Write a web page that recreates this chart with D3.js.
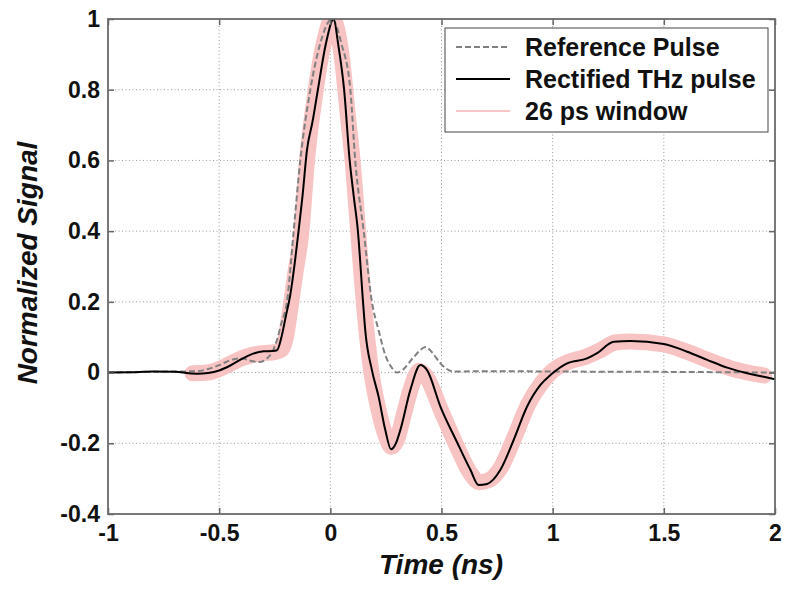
<!DOCTYPE html>
<html><head><meta charset="utf-8">
<script src="https://cdn.jsdelivr.net/npm/d3@7"></script>
<style>
body{margin:0;background:#fff;}
svg text{font-family:"Liberation Sans",Arial,sans-serif;font-weight:bold;fill:#111;}
</style></head>
<body><svg id="c" width="786" height="593"></svg>
<script>
// ---- data ----
const xTicks = [-1, -0.5, 0, 0.5, 1, 1.5, 2];
const yTicks = [-0.4, -0.2, 0, 0.2, 0.4, 0.6, 0.8, 1];
const xTickLabels = ["-1", "-0.5", "0", "0.5", "1", "1.5", "2"];
const yTickLabels = ["-0.4", "-0.2", "0", "0.2", "0.4", "0.6", "0.8", "1"];
const seriesNames = ["Reference Pulse", "Rectified THz pulse", "26 ps window"];

const refT = [-1, -0.8, -0.7, -0.6, -0.55, -0.5, -0.45, -0.4, -0.35, -0.32, -0.285, -0.26, -0.24, -0.22, -0.195, -0.165, -0.135, -0.09, -0.05, 0.008, 0.05, 0.09, 0.112, 0.15, 0.187, 0.217, 0.247, 0.275, 0.30, 0.33, 0.37, 0.43, 0.46, 0.495, 0.555, 0.7, 1.0, 1.5, 2.0];
const refV = [0, 0.002, 0.003, 0.004, 0.01, 0.021, 0.035, 0.04, 0.032, 0.03, 0.04, 0.06, 0.092, 0.14, 0.2, 0.4, 0.6, 0.8, 0.92, 1.0, 0.93, 0.8, 0.6, 0.4, 0.2, 0.12, 0.05, 0.015, 0.0, 0.01, 0.04, 0.072, 0.055, 0.026, 0.003, 0.004, 0.003, 0.002, 0];

const rectT = [-1, -0.9, -0.8, -0.7, -0.6, -0.55, -0.5, -0.45, -0.4, -0.35, -0.3, -0.26, -0.24, -0.22, -0.2, -0.18, -0.16, -0.143, -0.125, -0.105, -0.08, -0.056, -0.02, 0.015, 0.035, 0.062, 0.087, 0.105, 0.124, 0.147, 0.157, 0.187, 0.217, 0.247, 0.273, 0.295, 0.315, 0.36, 0.405, 0.435, 0.495, 0.57, 0.63, 0.667, 0.705, 0.765, 0.825, 0.885, 0.945, 0.99, 1.065, 1.155, 1.2, 1.275, 1.35, 1.5, 1.605, 1.695, 1.785, 1.875, 1.95, 2.0];
const rectV = [0, 0.001, 0.003, 0.002, -0.003, -0.001, 0.006, 0.02, 0.038, 0.053, 0.06, 0.061, 0.063, 0.1, 0.16, 0.22, 0.31, 0.4, 0.5, 0.63, 0.71, 0.8, 0.93, 1.0, 0.93, 0.8, 0.6, 0.5, 0.4, 0.2, 0.12, 0.007, -0.068, -0.162, -0.217, -0.2, -0.162, -0.049, 0.0215, 0.007, -0.096, -0.197, -0.275, -0.318, -0.315, -0.275, -0.19, -0.096, -0.035, -0.007, 0.026, 0.04, 0.055, 0.087, 0.089, 0.081, 0.059, 0.036, 0.014, -0.002, -0.012, -0.019];

const winT = [-0.62, -0.55, -0.5, -0.45, -0.4, -0.35, -0.3, -0.25, -0.22, -0.2, -0.18, -0.16, -0.13, -0.105, -0.07, -0.03, 0.01, 0.05, 0.08, 0.1, 0.125, 0.15, 0.185, 0.215, 0.25, 0.275, 0.3, 0.33, 0.36, 0.4, 0.43, 0.5, 0.57, 0.63, 0.67, 0.71, 0.77, 0.83, 0.89, 0.95, 1.0, 1.07, 1.15, 1.22, 1.28, 1.35, 1.5, 1.6, 1.7, 1.8, 1.95];
const winV = [-0.002, 0.0, 0.01, 0.025, 0.04, 0.05, 0.055, 0.058, 0.065, 0.1, 0.18, 0.27, 0.4, 0.6, 0.78, 0.93, 1.0, 0.9, 0.72, 0.6, 0.4, 0.2, 0.0, -0.1, -0.18, -0.21, -0.19, -0.12, -0.05, 0.005, -0.01, -0.11, -0.21, -0.285, -0.31, -0.305, -0.265, -0.18, -0.09, -0.03, 0.005, 0.03, 0.045, 0.065, 0.085, 0.088, 0.08, 0.06, 0.035, 0.012, -0.008];

// ---- layout ----
const L = 108, R = 775, T = 19, B = 514;
const svg = d3.select("#c");
const x = d3.scaleLinear().domain([-1, 2]).range([L, R]);
const y = d3.scaleLinear().domain([-0.4, 1]).range([B, T]);

// grid
const gridX = xTicks.slice(1, -1), gridY = yTicks.slice(1, -1);
const grid = svg.append("g").attr("stroke", "#9a9a9a").attr("stroke-width", 1).attr("stroke-dasharray", "1,2.5");
grid.selectAll(".gx").data(gridX).join("line")
  .attr("x1", d => x(d)).attr("x2", d => x(d)).attr("y1", T).attr("y2", B);
grid.selectAll(".gy").data(gridY).join("line")
  .attr("y1", d => y(d)).attr("y2", d => y(d)).attr("x1", L).attr("x2", R);

// clip
svg.append("clipPath").attr("id", "clip").append("rect")
  .attr("x", L).attr("y", T).attr("width", R - L).attr("height", B - T);

const line = d3.line().x(d => x(d[0])).y(d => y(d[1])).curve(d3.curveMonotoneX);
const zip = (a, b) => a.map((t, i) => [t, b[i]]);
const plot = svg.append("g").attr("clip-path", "url(#clip)");
plot.append("path").attr("d", line(zip(winT, winV))).attr("fill", "none")
  .attr("stroke", "#f8c3c3").attr("stroke-width", 16).attr("stroke-linejoin", "round").attr("stroke-linecap", "round");
plot.append("path").attr("d", line(zip(refT, refV))).attr("fill", "none")
  .attr("stroke", "#808080").attr("stroke-width", 2).attr("stroke-dasharray", "6,3");
plot.append("path").attr("d", line(zip(rectT, rectV))).attr("fill", "none")
  .attr("stroke", "#000").attr("stroke-width", 2);

// axes
const fmtX = d => xTickLabels[xTicks.indexOf(d)];
const fmtY = d => yTickLabels[yTicks.indexOf(d)];
const axB = svg.append("g").attr("transform", `translate(0,${B})`)
  .call(d3.axisBottom(x).tickValues(xTicks).tickFormat(fmtX).tickSize(-6).tickPadding(11));
const axL = svg.append("g").attr("transform", `translate(${L},0)`)
  .call(d3.axisLeft(y).tickValues(yTicks).tickFormat(fmtY).tickSize(-6).tickPadding(8));
const axT = svg.append("g").attr("transform", `translate(0,${T})`)
  .call(d3.axisTop(x).tickValues(xTicks).tickFormat("").tickSize(-6));
const axR = svg.append("g").attr("transform", `translate(${R},0)`)
  .call(d3.axisRight(y).tickValues(yTicks).tickFormat("").tickSize(-6));
[axB, axL, axT, axR].forEach(a => {
  a.select(".domain").remove();
  a.selectAll("line").attr("stroke", "#666").attr("stroke-width", 1.5);
  a.selectAll("text").attr("font-size", 23).attr("font-family", "Liberation Sans, Arial, sans-serif")
    .attr("font-weight", "bold").attr("fill", "#111");
});
svg.append("rect").attr("x", L).attr("y", T).attr("width", R - L).attr("height", B - T)
  .attr("fill", "none").attr("stroke", "#6a6a6a").attr("stroke-width", 1.8);

// axis labels
svg.append("text").attr("x", 441).attr("y", 574).attr("text-anchor", "middle")
  .attr("font-size", 28).attr("font-style", "italic").text("Time (ns)");
svg.append("text").attr("transform", "translate(37,263) rotate(-90)").attr("text-anchor", "middle")
  .attr("font-size", 28).attr("font-style", "italic").text("Normalized Signal");

// legend
const lg = svg.append("g");
lg.append("rect").attr("x", 445).attr("y", 28).attr("width", 323).attr("height", 104)
  .attr("fill", "#fff").attr("stroke", "#444").attr("stroke-width", 1);
const legStyles = [
  {stroke: "#808080", w: 2, dash: "6,3"},
  {stroke: "#000", w: 2, dash: null},
  {stroke: "#f6c6c6", w: 2, dash: null}
];
const rowY = [47, 79, 111];
seriesNames.forEach((name, i) => {
  lg.append("line").attr("x1", 456).attr("x2", 510).attr("y1", rowY[i]).attr("y2", rowY[i])
    .attr("stroke", legStyles[i].stroke).attr("stroke-width", legStyles[i].w)
    .attr("stroke-dasharray", legStyles[i].dash);
  lg.append("text").attr("x", 525).attr("y", rowY[i] + 8.5).attr("font-size", 25).text(name);
});
</script></body></html>
